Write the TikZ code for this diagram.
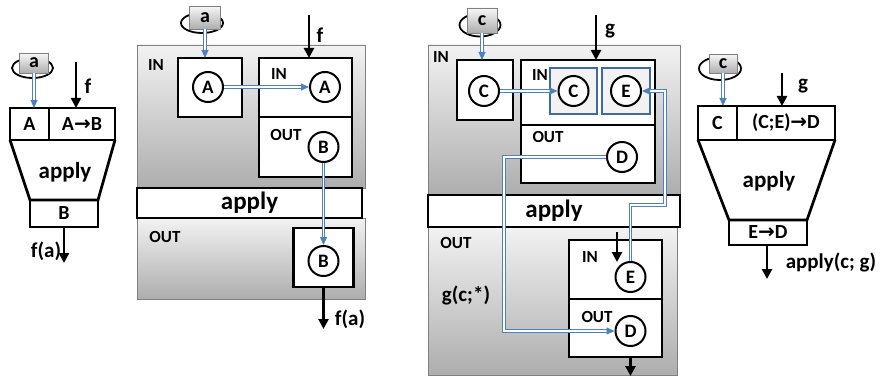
\documentclass[tikz,border=0pt]{standalone}
\usepackage{fontspec}
\setmainfont{Carlito}
\newfontfamily\arrfont{DejaVu Sans}
\usetikzlibrary{arrows.meta,shapes.geometric}
\definecolor{blueL}{RGB}{79,129,189}
\definecolor{blueB}{RGB}{65,105,160}
\newcommand{\rarr}{{\arrfont\bfseries\char"2192}}
\newcommand{\fs}[1]{\fontsize{#1}{#1}\selectfont\bfseries}
\begin{document}
\begin{tikzpicture}[x=1pt,y=-1pt,
  every node/.style={font=\fs{21}, inner sep=0pt},
  bx/.style={draw, line width=2.7pt, fill=white, inner sep=0pt, outer sep=0pt},
  circ/.style={circle, draw, line width=2pt, fill=white, minimum size=30pt, inner sep=0pt, font=\fs{19}},
  panel/.style={draw=black!50, line width=0.6pt, top color=black!5, bottom color=black!32, inner sep=0pt},
  bar/.style={draw, line width=2.7pt, fill=white, inner sep=0pt, font=\fs{25}},
  lbl/.style={inner sep=0pt, font=\fs{17}},
  big/.style={inner sep=0pt, font=\fs{20}},
  inq/.style={draw=black!50, line width=0.6pt, top color=black!3, bottom color=black!32, inner sep=0pt, font=\fs{20}},
  ring/.style={ellipse, draw, line width=1.8pt, inner sep=0pt},
  blk/.style={line width=2.6pt, -{Triangle[length=10pt,width=10pt]}},
  blu/.style={draw=blueL, line width=0.9pt, double=white, double distance=1.4pt, -{Triangle[length=8pt,width=7pt]}},
  bsq/.style={draw=blueB, line width=2.2pt, fill=black!5, inner sep=0pt},
]
\useasboundingbox (0,0) rectangle (881,377);
\fill[white] (0,0) rectangle (881,377);

% ---------- left diagram ----------
\node[ring, minimum width=41pt, minimum height=20pt] (laR) at (32.5,68) {};
\node[inq, minimum width=29pt, minimum height=20pt] (la) at (34,63) {a};
\node[bx, big, minimum width=39pt, minimum height=32pt] (lA) at (29.5,124) {A};
\node[bx, big, minimum width=66pt, minimum height=32pt] (lAB) at (82,124) {A\rarr B};
\node[bx, big, minimum width=68pt, minimum height=27pt] (lB) at (64,213.5) {B};
\draw[line width=2.7pt, line join=miter] (lA.south west) -- (lB.north west) -- (lB.north east) -- (lAB.south east);
\node[font=\fs{23}] (lap) at (65,172) {apply};
\draw[blu] (la.south) -- (la.south |- lA.north);
\coordinate (lf) at (76,62);
\draw[blk] (lf) -- (lf |- lAB.north);
\node (lfl) at (88,86) {f};
\coordinate (lo) at (64,263);
\draw[blk] (lB.south) -- (lo);
\node (lfa) at (46,251) {f(a)};

% ---------- middle diagram ----------
\node[panel, minimum width=228pt, minimum height=143pt] (mP1) at (251,116.5) {};
\node[panel, minimum width=228pt, minimum height=81pt] (mP2) at (251,258.5) {};
\node[bar, minimum width=225pt, minimum height=30pt] (mBar) at (249.5,203) {apply};
\node[lbl] (mIN) at (156,65) {IN};
\node[bx, minimum width=64pt, minimum height=59pt] (mA) at (210,87.5) {};
\node[circ] (mA1) at (208,87) {A};
\node[bx, minimum width=93pt, minimum height=59pt] (mFi) at (305.5,87.5) {};
\node[bx, minimum width=93pt, minimum height=60pt] (mFo) at (305.5,147) {};
\node[lbl] (mINi) at (279,74) {IN};
\node[circ] (mA2) at (325,87) {A};
\node[lbl] (mOUTi) at (286,135) {OUT};
\node[circ] (mB1) at (323.5,147) {B};
\node[ring, minimum width=42pt, minimum height=20pt] (maR) at (202,23) {};
\node[inq, minimum width=31pt, minimum height=23pt] (ma) at (205,17.5) {a};
\draw[blu] (ma.south) -- (ma.south |- mA.north);
\coordinate (mf) at (309,15);
\draw[blk] (mf) -- (mf |- mFi.north);
\node (mfl) at (320,35) {f};
\draw[blu] (mA1) -- (mA2);
\node[lbl] (mOUT) at (165,237) {OUT};
\node[bx, minimum width=60pt, minimum height=59pt] (mB) at (323.5,257.5) {};
\node[circ] (mB2) at (323.5,261) {B};
\draw[blu] (mB1) -- (mB2);
\coordinate (mo) at (323.5,329);
\draw[blk] (mB.south) -- (mo);
\node (mfa) at (350,319) {f(a)};

% ---------- right-middle diagram ----------
\node[panel, minimum width=252pt, minimum height=150pt] (rP1) at (554,120) {};
\node[panel, minimum width=249pt, minimum height=148pt] (rP2) at (552.5,301) {};
\node[bar, minimum width=252pt, minimum height=32pt] (rBar) at (554,211) {apply};
\node[lbl] (rIN) at (441,57) {IN};
\node[bx, minimum width=56pt, minimum height=60pt] (rC) at (485,90) {};
\node[circ] (rC1) at (484,91) {C};
\node[bx, minimum width=134pt, minimum height=65pt] (rFi) at (588,92.5) {};
\node[bx, minimum width=134pt, minimum height=58pt] (rFo) at (588,154) {};
\node[bsq, minimum width=47pt, minimum height=46pt] (rsC) at (573.5,91) {};
\node[bsq, minimum width=48pt, minimum height=46pt] (rsE) at (626,91) {};
\node[circ] (rC2) at (573.5,91) {C};
\node[circ] (rE1) at (626,91) {E};
\node[lbl] (rINi) at (540,75) {IN};
\node[lbl] (rOUTi) at (548,137) {OUT};
\node[circ] (rD1) at (622,157) {D};
\node[ring, minimum width=41pt, minimum height=23pt] (rcR) at (480,25) {};
\node[inq, minimum width=30pt, minimum height=25pt] (rc) at (482,20.5) {c};
\draw[blu] (rc.south) -- (rc.south |- rC.north);
\coordinate (rg) at (596,15);
\draw[blk] (rg) -- (rg |- rFi.north);
\node (rgl) at (610,31) {g};
\draw[blu] (rC1) -- (rC2);
\node[lbl] (rOUT) at (456,243) {OUT};
\node (rgc) at (466,295) {g(c;*)};
\node[bx, minimum width=93pt, minimum height=59pt] (rGi) at (615.5,269.5) {};
\node[bx, minimum width=93pt, minimum height=58pt] (rGo) at (615.5,328) {};
\node[lbl] (rINb) at (590,257) {IN};
\node[lbl] (rOUTb) at (597,317) {OUT};
\node[circ] (rE2) at (630.5,277) {E};
\node[circ] (rD2) at (630.5,331) {D};
\coordinate (k1) at (617,232);
\coordinate (k2) at (617,262);
\draw[blk] (k1) -- (k2);
\coordinate (ro) at (630.5,376);
\draw[blk] (rGo.south -| rD2) -- (ro);
\coordinate (p1) at (504,157);
\coordinate (p2) at (504,331);
\draw[blu] (rD1) -- (p1) -- (p2) -- (rD2);
\coordinate (q1) at (630.5,205);
\coordinate (q2) at (665,205);
\coordinate (q3) at (665,91);
\draw[blu] (rE2) -- (q1) -- (q2) -- (q3) -- (rE1);

% ---------- right diagram ----------
\node[ring, minimum width=42pt, minimum height=23pt] (xcR) at (720,68.5) {};
\node[inq, minimum width=28pt, minimum height=19pt] (xc) at (723,63.5) {c};
\node[bx, big, minimum width=39pt, minimum height=34pt] (xC) at (717.5,123) {C};
\node[bx, big, minimum width=98pt, minimum height=34pt] (xCED) at (786,123) {(C;E)\rarr D};
\node[bx, big, minimum width=78pt, minimum height=25pt] (xED) at (768,232.5) {E\rarr D};
\draw[line width=2.7pt, line join=miter] (xC.south west) -- (xED.north west) -- (xED.north east) -- (xCED.south east);
\node[font=\fs{23}] (xap) at (769,181) {apply};
\draw[blu] (xc.south) -- (xc.south |- xC.north);
\coordinate (xg) at (782,73);
\draw[blk] (xg) -- (xg |- xCED.north);
\node (xgl) at (803,86) {g};
\coordinate (xo) at (767,279);
\draw[blk] (xED.south -| xo) -- (xo);
\node (xlab) at (831,262) {apply(c; g)};
\end{tikzpicture}
\end{document}
